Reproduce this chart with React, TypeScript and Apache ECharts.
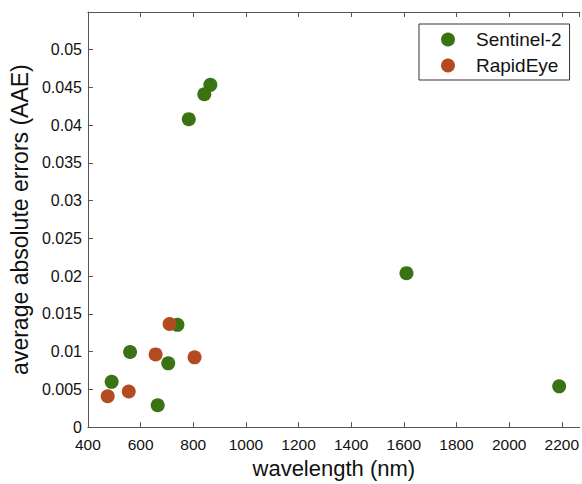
import React, { useEffect, useRef } from "react";
import * as echarts from "echarts";

const sentinelWavelengths = [490, 560, 665, 705, 740, 783, 842, 865, 1610, 2190];
const sentinelAAE = [0.006, 0.00995, 0.0029, 0.00845, 0.01355, 0.0408, 0.0441, 0.04535, 0.0204, 0.0054];
const rapidEyeWavelengths = [475, 555, 657, 710, 805];
const rapidEyeAAE = [0.00408, 0.00472, 0.00963, 0.01366, 0.00924];

const seriesNames = ["Sentinel-2", "RapidEye"];
const seriesColors = ["#3a7313", "#b44a20"];

const xTitle = "wavelength (nm)";
const yTitle = "average absolute errors (AAE)";

const axisColor = "#555555";
const font = "Liberation Sans, Arial, sans-serif";

export default function App() {
  const ref = useRef<HTMLDivElement>(null);
  useEffect(() => {
    if (!ref.current) return;
    const chart = echarts.init(ref.current, undefined, { renderer: "svg" });
    const toPairs = (xs: number[], ys: number[]) => xs.map((x, i) => [x, ys[i]]);
    chart.setOption({
      animation: false,
      backgroundColor: "#ffffff",
      grid: { left: 87, top: 12, right: 0, bottom: 54, containLabel: false },
      legend: {
        orient: "vertical",
        left: 419,
        top: 24,
        padding: [6, 8, 5, 22],
        itemGap: 7,
        itemWidth: 14,
        itemHeight: 14,
        icon: "circle",
        borderColor: "#333333",
        borderWidth: 1,
        backgroundColor: "#ffffff",
        textStyle: { fontSize: 19, fontFamily: font, color: "#111111", padding: [0, 0, 0, 16] },
        data: seriesNames,
      },
      xAxis: [
        {
          type: "value",
          min: 400,
          max: 2268,
          interval: 200,
          position: "bottom",
          name: xTitle,
          nameLocation: "middle",
          nameGap: 29,
          nameTextStyle: { fontSize: 22, fontFamily: font, color: "#111111" },
          axisLine: { show: true, lineStyle: { color: axisColor, width: 1 } },
          axisTick: { show: true, inside: true, length: 5, lineStyle: { color: axisColor } },
          axisLabel: {
            fontSize: 15.5,
            fontFamily: font,
            color: "#111111",
            margin: 9,
            showMaxLabel: false,
            formatter: (v: number) => String(v),
          },
          splitLine: { show: false },
        },
        {
          type: "value",
          min: 400,
          max: 2268,
          interval: 200,
          position: "top",
          axisLine: { show: true, onZero: false, lineStyle: { color: axisColor, width: 1 } },
          axisTick: { show: true, inside: true, length: 5, lineStyle: { color: axisColor } },
          axisLabel: { show: false },
          splitLine: { show: false },
        },
      ],
      yAxis: {
        type: "value",
        min: 0,
        max: 0.055,
        interval: 0.005,
        name: yTitle,
        nameLocation: "middle",
        nameGap: 45,
        nameTextStyle: { fontSize: 23, fontFamily: font, color: "#111111" },
        axisLine: { show: true, lineStyle: { color: axisColor, width: 1 } },
        axisTick: { show: true, inside: true, length: 5, lineStyle: { color: axisColor } },
        axisLabel: {
          fontSize: 16,
          fontFamily: font,
          color: "#111111",
          margin: 6,
          showMaxLabel: false,
          formatter: (v: number) => String(parseFloat(v.toFixed(3))),
        },
        splitLine: { show: false },
      },
      series: [
        {
          name: seriesNames[0],
          type: "scatter",
          xAxisIndex: 0,
          symbol: "circle",
          symbolSize: 14,
          itemStyle: { color: seriesColors[0], opacity: 1 },
          data: toPairs(sentinelWavelengths, sentinelAAE),
        },
        {
          name: seriesNames[1],
          type: "scatter",
          xAxisIndex: 0,
          symbol: "circle",
          symbolSize: 14,
          itemStyle: { color: seriesColors[1], opacity: 1 },
          data: toPairs(rapidEyeWavelengths, rapidEyeAAE),
        },
      ],
    });
    return () => chart.dispose();
  }, []);
  return <div ref={ref} style={{ width: 582, height: 484, position: "fixed", left: 0, top: 0 }} />;
}
